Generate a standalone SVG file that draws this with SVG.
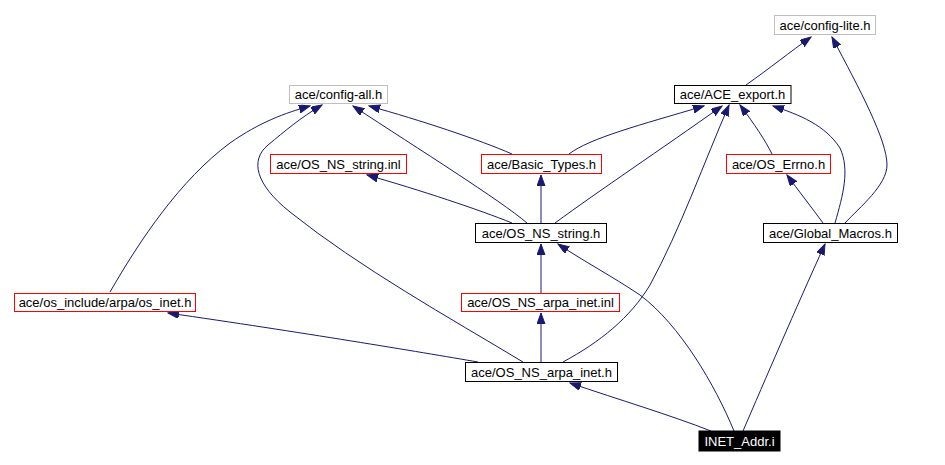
<svg xmlns="http://www.w3.org/2000/svg" width="945" height="465" viewBox="0 0 945 465">
<style>
  .bg { fill: #ffffff; }
  .node rect { fill: #ffffff; stroke: #000000; stroke-width: 1; }
  .node.gray rect { stroke: #bfbfbf; }
  .node.red rect { stroke: #ff0000; }
  .node.root rect { fill: #000000; stroke: #000000; }
  .node text { font-family: "Liberation Sans", Arial, Helvetica, sans-serif; font-size: 13px; fill: #000000; text-anchor: middle; }
  .node.root text { fill: #ffffff; }
  .edges path { fill: none; stroke: #191970; stroke-width: 1; marker-end: url(#arr); }
</style>
<defs>
  <marker id="arr" markerUnits="userSpaceOnUse" markerWidth="12" markerHeight="9" refX="11" refY="4" orient="auto" viewBox="0 0 12 9">
    <path d="M0,0 L11,4 L0,8 z" fill="#191970" stroke="#191970"/>
  </marker>
</defs>
<rect class="bg" x="0" y="0" width="945" height="465"/>

<g id="edges" class="edges">
  <path d="M746,85 C770,68 790,52 811,37"/>
  <path d="M845,223 C860,207 887,185 887,165 C887,140 860,90 832,37"/>
  <path d="M512,154 C480,140 420,120 369,106"/>
  <path d="M569,154 C590,138 640,125 704,106"/>
  <path d="M527,223 C500,200 420,150 353,106"/>
  <path d="M555,223 C600,190 660,150 722,106"/>
  <path d="M541,223 L541,175"/>
  <path d="M512,223 C480,210 420,190 367,175"/>
  <path d="M523,362 C450,318 360,268 290,212 C255,184 250,160 268,145 C285,131 300,118 322,105"/>
  <path d="M110,292 C140,240 180,180 230,143 C260,122 285,113 310,106"/>
  <path d="M478,362 C420,352 300,332 168,313"/>
  <path d="M541,362 L541,313"/>
  <path d="M541,293 L541,244"/>
  <path d="M563,362 C600,342 630,318 650,285 C680,230 705,160 729,105"/>
  <path d="M772,154 C765,140 755,125 740,105"/>
  <path d="M835,223 C843,195 850,170 840,148 C825,125 800,115 773,106"/>
  <path d="M823,223 C812,208 798,190 787,175"/>
  <path d="M743,431 C765,380 795,310 825,244"/>
  <path d="M734,431 C715,385 680,325 640,295 C610,275 585,262 558,244"/>
  <path d="M711,431 C670,415 620,400 570,383"/>
</g>

<g id="node-config-lite" class="node gray">
  <rect x="774.5" y="15.5" width="101" height="19"/>
  <text x="825" y="29.5">ace/config-lite.h</text>
</g>
<g id="node-config-all" class="node gray">
  <rect x="289.5" y="85.5" width="98" height="18"/>
  <text x="338.5" y="99">ace/config-all.h</text>
</g>
<g id="node-ace-export" class="node">
  <rect x="674.5" y="85.5" width="116.5" height="18"/>
  <text x="732.5" y="99">ace/ACE_export.h</text>
</g>
<g id="node-os-ns-string-inl" class="node red">
  <rect x="270.5" y="154.5" width="136" height="19"/>
  <text x="338.5" y="168.5">ace/OS_NS_string.inl</text>
</g>
<g id="node-basic-types" class="node red">
  <rect x="481.5" y="154.5" width="120" height="19"/>
  <text x="541.5" y="168.5">ace/Basic_Types.h</text>
</g>
<g id="node-os-errno" class="node red">
  <rect x="726.5" y="154.5" width="104" height="19"/>
  <text x="778.5" y="168.5">ace/OS_Errno.h</text>
</g>
<g id="node-os-ns-string-h" class="node">
  <rect x="475.5" y="223.5" width="131" height="19"/>
  <text x="541" y="237.5">ace/OS_NS_string.h</text>
</g>
<g id="node-global-macros" class="node">
  <rect x="763.5" y="223.5" width="134" height="19"/>
  <text x="830.5" y="237.5">ace/Global_Macros.h</text>
</g>
<g id="node-os-inet" class="node red">
  <rect x="14.5" y="293.5" width="181" height="18"/>
  <text x="105" y="307">ace/os_include/arpa/os_inet.h</text>
</g>
<g id="node-os-ns-arpa-inet-inl" class="node red">
  <rect x="461.5" y="293.5" width="158" height="18"/>
  <text x="540.5" y="307">ace/OS_NS_arpa_inet.inl</text>
</g>
<g id="node-os-ns-arpa-inet-h" class="node">
  <rect x="465.5" y="362.5" width="152" height="19"/>
  <text x="541.5" y="376.5">ace/OS_NS_arpa_inet.h</text>
</g>
<g id="node-inet-addr-i" class="node root">
  <rect x="699" y="431" width="81" height="20"/>
  <text x="739.5" y="445.5">INET_Addr.i</text>
</g>
</svg>
